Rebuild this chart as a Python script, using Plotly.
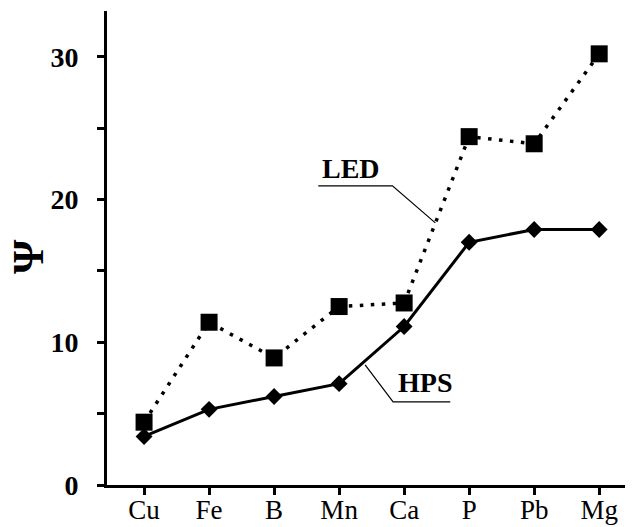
import plotly.graph_objects as go

# 원소 및 값
elements = ['Cu', 'Fe', 'B', 'Mn', 'Ca', 'P', 'Pb', 'Mg']
led_values = [4.4, 11.4, 8.9, 12.5, 12.75, 24.4, 23.9, 30.2]
hps_values = [3.4, 5.3, 6.2, 7.1, 11.1, 17.0, 17.9, 17.9]

y_tick_vals = [0, 5, 10, 15, 20, 25, 30]
y_tick_text = ['0', '', '10', '', '20', '', '30']

FONT = 'Liberation Serif'

# 페이지 기본 여백(8px)을 감안한 크기
W, H = 625, 519
ML, MR, MT, MB = 99, 0, 3, 42

fig = go.Figure()

# LED 추이 (점선 + 사각형)
fig.add_trace(go.Scatter(
    x=list(range(len(elements))),
    y=led_values,
    mode='lines+markers',
    name='LED',
    line=dict(color='black', width=3.5, dash='3.5px,7.5px'),
    marker=dict(symbol='square', size=17, color='black')
))

# HPS 추이 (실선 + 마름모)
fig.add_trace(go.Scatter(
    x=list(range(len(elements))),
    y=hps_values,
    mode='lines+markers',
    name='HPS',
    line=dict(color='black', width=3),
    marker=dict(symbol='diamond', size=13, color='black')
))

# 라벨 지시선
fig.add_shape(type='path', xref='x', yref='y',
              path='M 2.68,20.95 L 3.82,20.95 L 4.48,18.36',
              line=dict(color='black', width=1.2))
fig.add_shape(type='path', xref='x', yref='y',
              path='M 3.40,8.41 L 3.83,5.82 L 4.71,5.82',
              line=dict(color='black', width=1.2))

fig.add_annotation(x=3.18, y=22.2, xref='x', yref='y', text='<b>LED</b>',
                   showarrow=False, font=dict(family=FONT, size=28, color='black'))
fig.add_annotation(x=4.32, y=7.2, xref='x', yref='y', text='<b>HPS</b>',
                   showarrow=False, font=dict(family=FONT, size=28, color='black'))

# Y축 제목 (Ψ)
plot_w = W - ML - MR
plot_h = H - MT - MB
fig.add_annotation(x=(20 - ML) / plot_w, y=(H - MB - 249) / plot_h,
                   xref='paper', yref='paper', text='<b>Ψ</b>',
                   xanchor='center', yanchor='middle',
                   showarrow=False, textangle=-90,
                   font=dict(family=FONT, size=44, color='black'))

fig.update_layout(
    width=W,
    height=H,
    margin=dict(l=ML, r=MR, t=MT, b=MB, autoexpand=False),
    paper_bgcolor='white',
    plot_bgcolor='white',
    showlegend=False,
    xaxis=dict(
        range=[-0.57, 7.52],
        tickvals=list(range(len(elements))),
        ticktext=elements,
        showgrid=False,
        zeroline=False,
        showline=True,
        linecolor='black',
        linewidth=3,
        ticks='outside',
        ticklen=7,
        tickwidth=3,
        tickcolor='black',
        ticklabelstandoff=-8,
        automargin=False,
        tickfont=dict(family=FONT, size=27, color='black')
    ),
    yaxis=dict(
        range=[0, 33.2],
        tickvals=y_tick_vals,
        ticktext=y_tick_text,
        showgrid=False,
        zeroline=False,
        showline=True,
        linecolor='black',
        linewidth=3,
        ticks='outside',
        ticklen=7,
        tickwidth=3,
        tickcolor='black',
        ticklabelstandoff=13,
        automargin=False,
        tickfont=dict(family=FONT, size=28, color='black', weight='bold')
    )
)

fig.write_html("out.html")
